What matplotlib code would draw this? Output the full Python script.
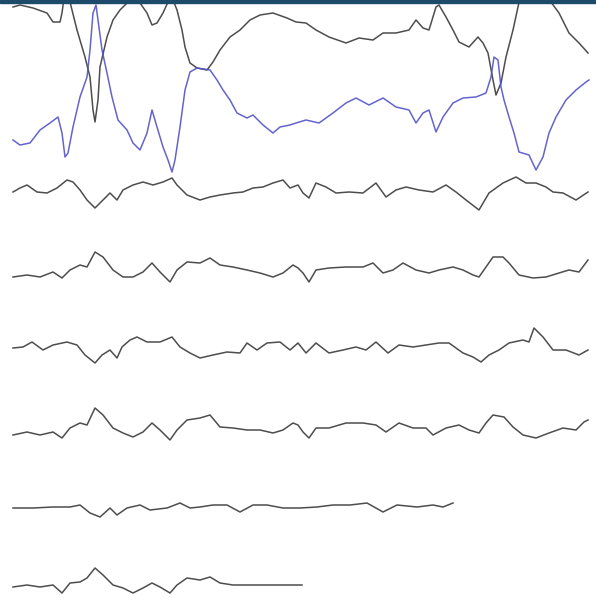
import matplotlib
matplotlib.use("Agg")
import matplotlib.pyplot as plt

# trace samples (x = time, y = screen level, top = 0)
t1 = [13, 20, 33, 47, 53, 60, 62, 64, None, 69, 77, 85, 90, 93, 95, 98, 100, 107, 113, 120, 127, 133, 140, 147, 152, 157, 163, 168, 173, 177, 182, 185, 190, 197, 207, 213, 220, 230, 240, 250, 260, 273, 287, 296, 306, 316, 329, 346, 359, 373, 383, 396, 409, 416, 423, 429, 436, 439, 446, 453, 459, 469, 478, 483, 488, 493, 496, 501, 506, 513, 518, 520, None, 548, 559, 569, 579, 588]
v1 = [7, 5, 8, 13, 22, 22, 13, -2, None, -2, 30, 57, 77, 110, 122, 100, 67, 37, 20, 10, 3, 2, 3, 13, 25, 23, 13, 2, 0, 10, 30, 47, 63, 68, 70, 62, 50, 37, 30, 20, 15, 13, 18, 22, 23, 30, 37, 43, 38, 40, 33, 33, 30, 20, 28, 30, 7, 5, 17, 30, 42, 47, 37, 43, 53, 80, 95, 83, 57, 30, 7, -2, None, -2, 13, 33, 43, 53]

t2 = [13, 20, 30, 40, 50, 58, 62, 65, 68, 73, 80, 87, 90, 93, 96, 98, 102, 107, 112, 118, 127, 133, 140, 147, 152, 157, 163, 168, 172, 175, 180, 185, 190, 197, 210, 217, 223, 230, 237, 247, 253, 263, 273, 280, 290, 296, 306, 319, 333, 346, 356, 369, 383, 396, 409, 416, 423, 429, 436, 443, 453, 463, 476, 486, 491, 494, 498, 501, 504, 509, 514, 519, 529, 536, 543, 549, 556, 566, 576, 586, 589]
v2 = [140, 145, 143, 130, 123, 117, 133, 157, 153, 127, 97, 77, 50, 13, 5, 20, 50, 73, 97, 120, 130, 143, 150, 133, 110, 127, 147, 160, 172, 160, 127, 90, 72, 68, 70, 80, 90, 100, 113, 118, 115, 125, 133, 127, 125, 123, 120, 123, 113, 103, 98, 105, 98, 107, 110, 123, 113, 110, 132, 117, 103, 98, 97, 93, 77, 57, 60, 87, 100, 117, 133, 152, 155, 170, 157, 133, 117, 100, 90, 82, 80]

t3 = [13, 20, 27, 37, 47, 57, 67, 73, 80, 87, 95, 103, 110, 117, 123, 133, 143, 153, 163, 172, 177, 187, 200, 210, 220, 233, 243, 253, 263, 273, 283, 290, 298, 303, 309, 316, 326, 336, 349, 363, 376, 386, 396, 406, 419, 433, 446, 456, 466, 479, 489, 503, 516, 526, 536, 546, 553, 563, 576, 588]
v3 = [192, 188, 185, 192, 193, 188, 180, 182, 190, 200, 208, 200, 193, 200, 190, 185, 182, 185, 182, 178, 185, 195, 200, 197, 195, 193, 192, 188, 187, 183, 180, 188, 185, 193, 198, 183, 187, 193, 192, 193, 183, 197, 190, 187, 190, 192, 185, 192, 200, 210, 193, 183, 177, 183, 183, 187, 192, 193, 200, 192]

t4 = [13, 27, 40, 53, 62, 70, 80, 87, 95, 103, 113, 123, 133, 143, 152, 160, 170, 177, 187, 200, 210, 220, 233, 247, 260, 273, 283, 293, 298, 303, 309, 316, 329, 346, 363, 373, 383, 393, 403, 416, 429, 439, 453, 463, 473, 479, 486, 493, 503, 509, 519, 533, 546, 559, 569, 579, 588]
v4 = [277, 275, 277, 272, 278, 270, 265, 267, 252, 257, 270, 277, 277, 272, 263, 272, 282, 270, 262, 263, 258, 265, 267, 270, 273, 277, 273, 265, 268, 273, 282, 270, 268, 267, 267, 263, 273, 270, 263, 270, 273, 270, 267, 270, 275, 277, 267, 257, 257, 263, 275, 278, 277, 273, 270, 272, 260]

t5 = [13, 23, 32, 43, 53, 67, 77, 85, 95, 102, 110, 117, 122, 130, 137, 147, 160, 172, 180, 190, 200, 213, 227, 240, 247, 257, 267, 280, 290, 298, 306, 316, 329, 343, 356, 366, 376, 388, 399, 413, 426, 439, 449, 463, 473, 481, 489, 499, 509, 523, 529, 534, 543, 553, 566, 579, 588]
v5 = [348, 347, 342, 350, 345, 342, 345, 355, 363, 355, 350, 358, 347, 340, 337, 342, 342, 337, 347, 353, 358, 355, 352, 353, 343, 350, 343, 342, 350, 343, 353, 343, 353, 350, 347, 350, 342, 353, 345, 347, 345, 343, 343, 353, 357, 362, 355, 350, 343, 340, 342, 328, 337, 350, 350, 355, 350]

t6 = [13, 27, 40, 53, 62, 70, 80, 87, 95, 103, 113, 123, 133, 143, 152, 160, 170, 177, 187, 200, 210, 220, 233, 247, 260, 273, 283, 293, 298, 303, 309, 316, 329, 346, 363, 376, 386, 399, 413, 426, 433, 446, 459, 469, 479, 486, 493, 504, 513, 523, 536, 549, 563, 576, 584, 588]
v6 = [435, 432, 435, 432, 438, 428, 423, 425, 408, 415, 428, 433, 437, 432, 423, 430, 440, 430, 420, 418, 415, 427, 428, 430, 430, 433, 430, 423, 425, 432, 438, 428, 428, 423, 423, 425, 432, 423, 428, 428, 435, 428, 425, 430, 433, 423, 415, 417, 427, 435, 438, 433, 428, 430, 422, 420]

t7 = [13, 33, 53, 70, 80, 90, 100, 110, 117, 127, 140, 150, 167, 180, 190, 200, 213, 227, 240, 253, 267, 283, 300, 317, 333, 350, 367, 383, 397, 417, 433, 443, 453]
v7 = [508, 508, 507, 507, 505, 513, 517, 508, 515, 508, 505, 510, 508, 503, 508, 507, 505, 505, 512, 505, 505, 508, 508, 507, 505, 505, 503, 512, 505, 507, 505, 507, 503]

t8 = [13, 27, 40, 53, 62, 70, 80, 87, 95, 103, 113, 123, 133, 143, 152, 160, 170, 177, 187, 200, 210, 220, 233, 253, 273, 290, 302]
v8 = [587, 585, 587, 585, 593, 583, 582, 578, 568, 575, 585, 588, 593, 588, 583, 587, 593, 585, 578, 580, 577, 583, 585, 585, 585, 585, 585]

gray = '#3a3a3a'
blue = '#5353c8'

fig = plt.figure(figsize=(5.96, 6.01), dpi=100)
ax = fig.add_axes([0, 0, 1, 1])
ax.set_xlim(0, 596)
ax.set_ylim(601, 0)
ax.axis('off')

for t, v in [(t1, v1), (t3, v3), (t4, v4), (t5, v5), (t6, v6), (t7, v7), (t8, v8)]:
    tt = [a if a is not None else float('nan') for a in t]
    vv = [b if b is not None else float('nan') for b in v]
    ax.plot(tt, vv, color=gray, lw=1.1, alpha=0.9)
ax.plot(t2, v2, color=blue, lw=1.1, alpha=0.9)

# dark band along the top edge
ax.axhspan(0, 3, color='#1d4a6a', zorder=5)

fig.savefig('out.png', dpi=100)
